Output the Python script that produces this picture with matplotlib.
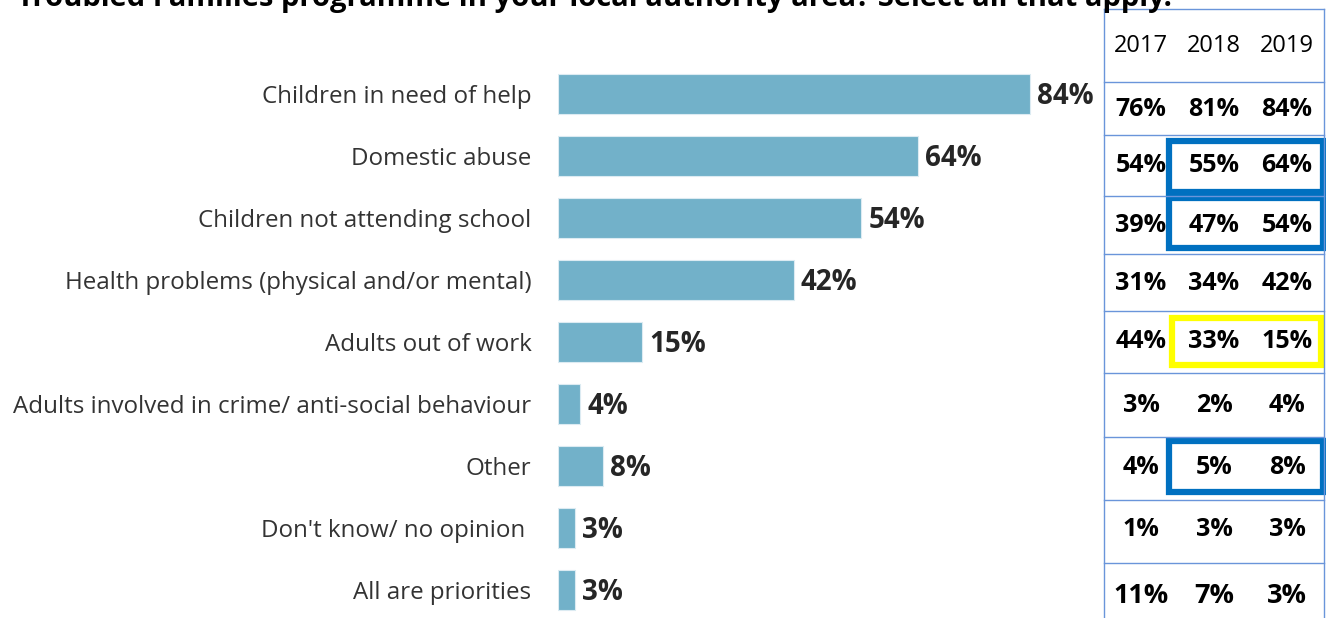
import matplotlib.pyplot as plt
from matplotlib.patches import Rectangle

plt.rcParams['font.family'] = ['Open Sans', 'DejaVu Sans']

# Survey answers, 2019 shares shown as bars
categories = [
    'Children in need of help',
    'Domestic abuse',
    'Children not attending school',
    'Health problems (physical and/or mental)',
    'Adults out of work',
    'Adults involved in crime/ anti-social behaviour',
    'Other',
    "Don't know/ no opinion ",
    'All are priorities',
]
values_2019 = [84, 64, 54, 42, 15, 4, 8, 3, 3]

# Comparison table, one list per year
years = ['2017', '2018', '2019']
values_2017 = [76, 54, 39, 31, 44, 3, 4, 1, 11]
values_2018 = [81, 55, 47, 34, 33, 2, 5, 3, 7]

# Rows whose 2018-2019 change is boxed, and the box colour
boxed_rows = {1: '#0070C0', 2: '#0070C0', 4: '#FFFF00', 6: '#0070C0'}

title = 'Troubled Families programme in your local authority area? Select all that apply.'

W, H = 1326, 618
fig = plt.figure(figsize=(W / 100, H / 100), dpi=100)

# bar axes placed in pixel units
x0, x1 = 558, 1100
y_top, y_bot = 63, 621
ax = fig.add_axes([x0 / W, (H - y_bot) / H, (x1 - x0) / W, (y_bot - y_top) / H])
ypos = list(range(len(categories)))
ax.barh(ypos, values_2019, height=0.65, color='#72B1C9', edgecolor='#DCEBF2', linewidth=0.8)
ax.set_xlim(0, (x1 - x0) / 5.62)
ax.set_ylim(len(categories) - 0.5, -0.5)
ax.set_yticks(ypos)
ax.set_yticklabels(categories, fontsize=17.4, color='#333333')
ax.tick_params(axis='y', length=0, pad=19)
ax.set_xticks([])
for s in ax.spines.values():
    s.set_visible(False)

for y, v in zip(ypos, values_2019):
    ax.annotate(f'{v}%', (v, y), xytext=(5, -2), textcoords='offset points',
                ha='left', va='center', fontsize=20, fontweight='bold', color='#262626')

# overlay axes for title and table, in pixel coordinates
ov = fig.add_axes([0, 0, 1, 1], zorder=5)
ov.set_xlim(0, W)
ov.set_ylim(H, 0)
ov.axis('off')
ov.patch.set_alpha(0)

ov.text(17, 6, title, fontsize=21, fontweight='bold', color='black', ha='left', va='baseline')

line_c = '#6A95DA'
row_lines = [9, 82, 135, 196, 254, 311, 373, 437, 500, 563]
for y in row_lines:
    ov.plot([1104, 1324], [y, y], color=line_c, lw=1.0)
for x in [1104, 1324]:
    ov.plot([x, x], [9, H], color=line_c, lw=1.0)

col_x = [1141, 1214, 1287]
for cx, yr in zip(col_x, years):
    ov.text(cx, 46, yr, fontsize=17, ha='center', va='center', color='black')

row_y = [110, 166, 225, 283, 342, 406, 468, 530, 596]
for i, ry in enumerate(row_y):
    fs = 19.5 if i == len(row_y) - 1 else 18
    for cx, v in zip(col_x, [values_2017[i], values_2018[i], values_2019[i]]):
        ov.text(cx, ry, f'{v}%', fontsize=fs, fontweight='bold', ha='center', va='center', color='black')

box_y = {1: (141, 192), 2: (198, 248), 4: (318, 365), 6: (441, 492)}
for i, c in boxed_rows.items():
    ya, yb = box_y[i]
    xa = 1172 if c == '#FFFF00' else 1169
    xb = 1321 if c == '#FFFF00' else 1323
    ov.add_patch(Rectangle((xa, ya), xb - xa, yb - ya, fill=False, edgecolor=c, lw=4.5))

fig.savefig('out.png', dpi=100)
